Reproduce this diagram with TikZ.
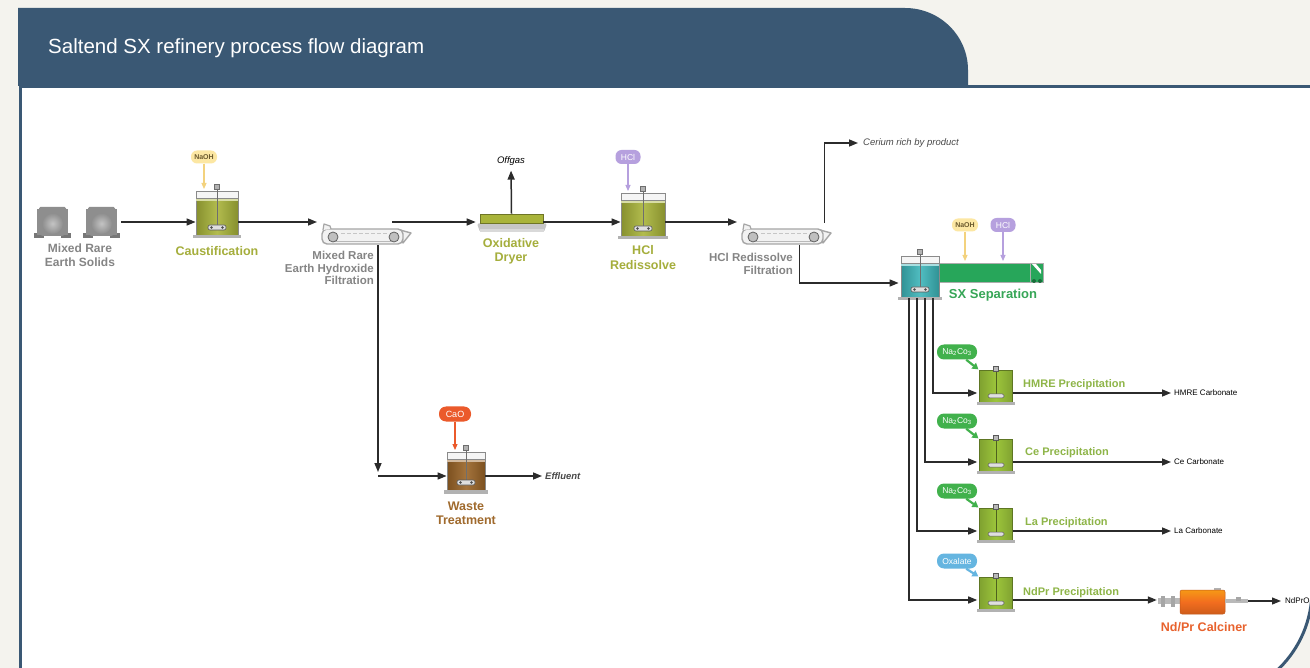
\documentclass[tikz,border=0pt]{standalone}
\usepackage{fontspec}
\setmainfont{Liberation Sans}
\usetikzlibrary{arrows.meta}

\definecolor{bgcream}{HTML}{F4F3EE}
\definecolor{frameblue}{HTML}{3A5874}
\definecolor{labgray}{HTML}{858585}
\definecolor{notegray}{HTML}{4A4A4A}
\definecolor{olivec}{HTML}{A9B43A}
\definecolor{olivetxt}{HTML}{A5AE3C}
\definecolor{limec}{HTML}{9CC53B}
\definecolor{limetxt}{HTML}{8EB548}
\definecolor{sxgreen}{HTML}{37A657}
\definecolor{tealc}{HTML}{3DB6BA}
\definecolor{settler}{HTML}{27A65A}
\definecolor{brownt}{HTML}{9A6427}
\definecolor{browntxt}{HTML}{A06A2D}
\definecolor{caored}{HTML}{EB5A2B}
\definecolor{calcorange}{HTML}{F26D1F}
\definecolor{calctxt}{HTML}{E8622D}
\definecolor{nagreen}{HTML}{41B14C}
\definecolor{oxblue}{HTML}{65B5E0}
\definecolor{hclpurple}{HTML}{B6A0DE}
\definecolor{naohyel}{HTML}{FCE7A3}
\definecolor{naohtxt}{HTML}{6B5A2E}
\definecolor{naoharrow}{HTML}{F3D27E}
\definecolor{tankline}{HTML}{8A8A8A}
\definecolor{linec}{HTML}{2B2B2B}
\definecolor{drumgray}{HTML}{8E8E8E}
\definecolor{drumdark}{HTML}{777777}
\definecolor{drumlight}{HTML}{C4C4C4}

% standard stirred tank: name, cx, ytop, width, height, colour
\newcommand\Tank[6]{%
  \pgfmathsetmacro\TL{#2-#4/2}%
  \pgfmathsetmacro\TR{#2+#4/2}%
  \pgfmathsetmacro\TB{#3+#5}%
  \node[inner sep=0, minimum width=#4pt, minimum height=#5pt, anchor=north,
        draw=tankline, line width=0.8pt, left color=#6!80!black,
        right color=#6!80!black, middle color=#6!90!white] (#1) at (#2,#3) {};
  \fill[#6!45!white] (\TL,{#3+7}) rectangle (\TR,{#3+10});
  \draw[tankline, line width=0.8pt, fill=white!92!gray] (\TL,#3) rectangle (\TR,{#3+7});
  \draw[tankline!80!black, line width=1pt] (#2,{#3-3}) -- (#2,{\TB-8});
  \draw[fill=gray!60, draw=tankline!80!black, line width=0.6pt] ({#2-2.5},{#3-7}) rectangle ({#2+2.5},{#3-2});
  \draw[fill=gray!25, draw=gray!70!black, line width=0.6pt, rounded corners=2pt] ({#2-9},{\TB-10}) rectangle ({#2+9},{\TB-5});
  \fill[gray!60!black] ({#2-5.5},{\TB-7.5}) circle[radius=1.3pt];
  \fill[gray!60!black] ({#2+5.5},{\TB-7.5}) circle[radius=1.3pt];
  \fill[gray!60] ({\TL-3},\TB) rectangle ({\TR+3},{\TB+3.5});
}

% precipitation tank: name, cx, ytop
\newcommand\PTank[3]{%
  \node[inner sep=0, minimum width=33pt, minimum height=32pt, anchor=north,
        draw=limec!60!black, line width=0.6pt, left color=limec!82!black,
        right color=limec!82!black, middle color=limec] (#1) at (#2,#3) {};
  \draw[limec!50!black, line width=0.7pt] (#2,{#3+1}) -- (#2,{#3+24});
  \draw[fill=gray!55, draw=gray!70!black, line width=0.5pt] ({#2-2.5},{#3-4}) rectangle ({#2+2.5},{#3+1});
  \draw[fill=gray!25, draw=gray!70!black, line width=0.5pt, rounded corners=1.5pt] ({#2-8},{#3+24}) rectangle ({#2+8},{#3+28});
  \fill[gray!60] ({#2-19},{#3+32}) rectangle ({#2+19},{#3+35});
}

% belt filter: name, xleft, ytop
\newcommand\Filter[3]{%
  \node[inner sep=0, minimum width=92pt, minimum height=22pt, anchor=north west] (#1) at (#2,#3) {};
  \draw[draw=gray!70, line width=1.4pt, fill=gray!10, line join=round] ({#2+80},{#3+7}) -- ({#2+91},{#3+10}) -- ({#2+83},{#3+20}) -- cycle;
  \draw[draw=gray!70, line width=1.4pt, fill=gray!10, rounded corners=5pt] ({#2+2},{#3+6}) rectangle ({#2+83},{#3+21});
  \draw[draw=gray!70, line width=1.2pt, fill=gray!10, line join=round] ({#2+3},{#3+7}) -- ({#2+4},{#3+1}) -- ({#2+10},{#3+3}) -- ({#2+11},{#3+6});
  \draw[gray!45, line width=1.3pt, dash pattern=on 4pt off 2pt] ({#2+21},{#3+10.5}) -- ({#2+67},{#3+10.5});
  \draw[gray!55, line width=0.8pt] ({#2+13},{#3+18.5}) -- ({#2+74},{#3+18.5});
  \draw[fill=gray!50, draw=gray!75!black, line width=0.8pt] ({#2+13},{#3+14}) circle[radius=5pt];
  \draw[fill=gray!50, draw=gray!75!black, line width=0.8pt] ({#2+74},{#3+14}) circle[radius=5pt];
}

% drum of solids: xleft, ytop
\newcommand\Drum[2]{%
  \fill[drumdark] (#1,{#2+26}) rectangle ({#1+10},{#2+31});
  \fill[drumdark] ({#1+27},{#2+26}) rectangle ({#1+37},{#2+31});
  \fill[drumgray] ({#1+3},{#2+2}) rectangle ({#1+9},{#2+28});
  \fill[drumgray] ({#1+28},{#2+2}) rectangle ({#1+34},{#2+28});
  \fill[drumgray, rounded corners=1.5pt] ({#1+5},#2) rectangle ({#1+32},{#2+6});
  \fill[drumgray, rounded corners=3pt] ({#1+6},{#2+4}) rectangle ({#1+31},{#2+29});
  \shade[inner color=drumlight, outer color=drumgray] ({#1+18.5},{#2+16.5}) circle[radius=10.5pt];
}

\begin{document}
\begin{tikzpicture}[x=1pt,y=-1pt,
  flow/.style={draw=linec, line width=1.5pt, -{Triangle[length=9pt,width=7pt]}},
  feed/.style={line width=1.1pt, -{Triangle[length=6pt,width=5pt]}, shorten >=2pt},
  dose/.style={line width=2.2pt, -{Triangle[length=6pt,width=7pt]}, shorten >=1pt},
  lab/.style={inner sep=0, align=center, font=\fontsize{12}{13.5}\selectfont\bfseries},
  plab/.style={inner sep=0, anchor=west, text=limetxt, font=\fontsize{11}{12}\selectfont\bfseries},
  note/.style={inner sep=0, text=notegray, font=\fontsize{9.5}{10}\selectfont\itshape},
  carb/.style={inner sep=0, anchor=west, text=black, font=\fontsize{8}{9}\selectfont},
  pill/.style={rounded corners=6pt, inner xsep=3pt, inner ysep=0pt, minimum height=14pt, text=white, font=\fontsize{8.5}{9}\selectfont},
  npill/.style={pill, fill=naohyel, text=naohtxt, font=\fontsize{7}{7}\selectfont\bfseries, minimum width=26pt, minimum height=13pt},
  hpill/.style={pill, fill=hclpurple, minimum width=25pt},
  cpill/.style={pill, minimum width=40pt, minimum height=15pt, rounded corners=7pt},
]
\useasboundingbox (0,0) rectangle (1310,668);
\fill[bgcream] (0,0) rectangle (1310,668);

% frame
\fill[white] (20,87) -- (1312,87) -- (1312,590) arc[start angle=0,end angle=-90,radius=110pt] -- (20,700) -- cycle;
\draw[frameblue, line width=3pt] (20,710) -- (20,87) -- (1320,87);
\draw[frameblue, line width=3pt] (1312,560) -- (1312,590) arc[start angle=0,end angle=-90,radius=110pt] -- (1150,700);
% header tab
\fill[frameblue] (18,86) -- (18,8) -- (905,8) arc[start angle=90,end angle=0,x radius=63pt,y radius=62pt] -- (968,86) -- cycle;
\node[anchor=west, text=white, inner sep=0, font=\fontsize{20.5}{21}\selectfont] (title) at (48,48) {Saltend SX refinery process flow diagram};

% rows
\coordinate (rowM) at (0,222);
\coordinate (rowSX) at (0,283);
\coordinate (rowW) at (0,476);
\coordinate (rowH) at (0,393);
\coordinate (rowC) at (0,462);
\coordinate (rowL) at (0,531);
\coordinate (rowN) at (0,600);

% Mixed rare earth solids
\Drum{34}{207}
\Drum{83}{207}
\node[inner sep=0, minimum width=87pt, minimum height=32pt] (solids) at (77.5,222) {};
\node[lab, text=labgray] (solidslab) at (80,255) {Mixed Rare\\Earth Solids};

% Caustification
\Tank{caust}{217}{191}{42}{44}{olivec}
\node[npill] (naoh1) at (204,157) {NaOH};
\draw[feed, naoharrow] (naoh1) -- (naoh1 |- caust.north);
\node[lab, text=olivetxt, font=\fontsize{12.5}{14}\selectfont\bfseries] (caustlab) at (217,251) {Caustification};

% Filtration 1
\Filter{filt1}{320}{223}
\node[lab, align=right, anchor=east, text=labgray, font=\fontsize{11.5}{12.5}\selectfont\bfseries] (filt1lab) at (374,268) {Mixed Rare\\Earth Hydroxide\\Filtration};

% Oxidative dryer
\fill[gray!45, rounded corners=1.5pt] (477,223.5) -- (547,223.5) -- (544,232) -- (480,232) -- cycle;
\fill[gray!30] (480,229) rectangle (544,232);
\node[fill=olivec, draw=olivec!65!black, line width=0.6pt, minimum width=63pt, minimum height=9pt, inner sep=0] (dryer) at (511.5,218.5) {};
\node[inner sep=0, font=\fontsize{9.5}{10}\selectfont\itshape] (offgas) at (511,161) {Offgas};
\draw[flow, shorten >=5pt] (dryer.north) -- (offgas.south);
\node[lab, text=olivetxt, font=\fontsize{12.5}{14}\selectfont\bfseries] (dryerlab) at (511,251) {Oxidative\\Dryer};

% HCl redissolve
\Tank{hclr}{643}{193}{44}{43}{olivec}
\node[hpill] (hcl1) at (628,157) {HCl};
\draw[feed, hclpurple] (hcl1) -- (hcl1 |- hclr.north);
\node[lab, text=olivetxt, font=\fontsize{12.5}{15}\selectfont\bfseries] (hclrlab) at (643,258) {HCl\\Redissolve};

% Filtration 2
\Filter{filt2}{740}{223}
\node[lab, align=right, anchor=east, text=labgray, font=\fontsize{11.5}{12.5}\selectfont\bfseries] (filt2lab) at (793,264) {HCl Redissolve\\Filtration};
\node[note, anchor=west] (cer) at (863,143) {Cerium rich by product};

% SX separation
\node[draw=gray!65, line width=1pt, fill=settler, minimum width=105pt, minimum height=19pt, inner sep=0, anchor=north west] (settler) at (938,263) {};
\draw[gray!65, line width=1pt] (1030,263) -- (1030,282);
\fill[white] (1032,264) -- (1036,264) -- (1041,270) -- (1041,274) -- cycle;
\fill[settler!65!black] (1034,281) circle[radius=2pt];
\fill[settler!65!black] (1040,281) circle[radius=2pt];
\Tank{sx}{920}{256}{38}{41}{tealc}
\node[npill] (naoh2) at (965,225) {NaOH};
\node[hpill] (hcl2) at (1003,225) {HCl};
\draw[feed, naoharrow] (naoh2) -- (naoh2 |- settler.north);
\draw[feed, hclpurple] (hcl2) -- (hcl2 |- settler.north);
\node[lab, text=sxgreen, font=\fontsize{13}{14}\selectfont\bfseries] (sxlab) at (993,295) {SX Separation};

% Waste treatment
\Tank{waste}{466}{452}{38}{38}{brownt}
\node[pill, fill=caored, font=\fontsize{9}{9}\selectfont, minimum width=32pt, minimum height=15pt, rounded corners=7pt] (cao) at (455,414) {CaO};
\draw[feed, caored] (cao) -- (cao |- waste.north);
\node[lab, text=browntxt, font=\fontsize{12.5}{14}\selectfont\bfseries] (wastelab) at (466,513) {Waste\\Treatment};
\node[note, anchor=west, font=\fontsize{9.5}{10}\selectfont\itshape\bfseries] (effl) at (545,476) {Effluent};

% Precipitation tanks
\PTank{hmre}{996}{370}
\PTank{cep}{996}{439}
\PTank{lap}{996}{508}
\PTank{ndpr}{996}{577}
\node[cpill, fill=nagreen] (na1) at (957,352) {Na\textsubscript{2}Co\textsubscript{3}};
\node[cpill, fill=nagreen] (na2) at (957,421) {Na\textsubscript{2}Co\textsubscript{3}};
\node[cpill, fill=nagreen] (na3) at (957,491) {Na\textsubscript{2}Co\textsubscript{3}};
\node[cpill, fill=oxblue] (ox) at (957,561) {Oxalate};
\draw[dose, nagreen] (na1.-40) -- (hmre.north west);
\draw[dose, nagreen] (na2.-40) -- (cep.north west);
\draw[dose, nagreen] (na3.-40) -- (lap.north west);
\draw[dose, oxblue] (ox.-40) -- (ndpr.north west);
\node[plab] (hmrelab) at (1023,385) {HMRE Precipitation};
\node[plab] (celab) at (1025,453) {Ce Precipitation};
\node[plab] (lalab) at (1025,523) {La Precipitation};
\node[plab] (ndprlab) at (1023,593) {NdPr Precipitation};
\node[carb] (hmrec) at (1174,393) {HMRE Carbonate};
\node[carb] (cec) at (1174,462) {Ce Carbonate};
\node[carb] (lac) at (1174,531) {La Carbonate};

% Calciner
\node[inner sep=0, minimum width=22pt, minimum height=6pt, fill=gray!55] (pipeL) at (1169,601) {};
\fill[gray!70] (1161,595.5) rectangle (1165,606.5);
\fill[gray!70] (1171,595.5) rectangle (1175,606.5);
\fill[gray!60] (1214,587.5) rectangle (1221,591);
\node[inner sep=0, minimum width=45pt, minimum height=24pt, rounded corners=2pt, draw=calcorange!80!black, line width=0.5pt, top color=calcorange!70!yellow, bottom color=calcorange!85!black, middle color=calcorange] (calciner) at (1202.5,602) {};
\node[inner sep=0, minimum width=23pt, minimum height=4pt, fill=gray!55] (pipeR) at (1236.5,601) {};
\fill[gray!70] (1236,597) rectangle (1241,601);
\node[carb] (ndprox) at (1285,601) {NdPrO};
\node[lab, text=calctxt, font=\fontsize{12.5}{14}\selectfont\bfseries] (calclab) at (1204,627) {Nd/Pr Calciner};

% connectors
\coordinate (f1out) at (392,222);
\coordinate (wcorner) at (378,476);
\draw[flow] (solids.east |- rowM) -- (caust.west |- rowM);
\draw[flow, shorten >=3pt] (caust.east |- rowM) -- (filt1.west |- rowM);
\draw[flow, shorten >=4pt] (f1out) -- (dryer.west |- rowM);
\draw[flow] (dryer.east |- rowM) -- (hclr.west |- rowM);
\draw[flow, shorten >=3pt] (hclr.east |- rowM) -- (filt2.west |- rowM);
\draw[flow, shorten >=5pt] ([xshift=-8pt]filt2.north east) |- (cer.west);
\draw[flow, shorten >=2pt] ([xshift=-33pt]filt2.south east) |- (sx.west |- rowSX);
\draw[flow] (wcorner |- filt1.south) -- ([yshift=4pt]wcorner);
\draw[flow] (wcorner) -- (waste.west |- wcorner);
\draw[flow, shorten >=3pt] (waste.east |- rowW) -- (effl.west);
\draw[flow, shorten >=2pt] ([xshift=13pt]sx.south) |- (hmre.west |- rowH);
\draw[flow, shorten >=2pt] ([xshift=5pt]sx.south) |- (cep.west |- rowC);
\draw[flow, shorten >=2pt] ([xshift=-3pt]sx.south) |- (lap.west |- rowL);
\draw[flow, shorten >=2pt] ([xshift=-11pt]sx.south) |- (ndpr.west |- rowN);
\draw[flow, shorten >=3pt] (hmre.east |- rowH) -- (hmrec.west);
\draw[flow, shorten >=3pt] (cep.east |- rowC) -- (cec.west);
\draw[flow, shorten >=3pt] (lap.east |- rowL) -- (lac.west);
\draw[flow, shorten >=1pt] (ndpr.east |- rowN) -- (pipeL.west |- rowN);
\draw[flow, shorten >=4pt, line width=1.2pt] (pipeR.east) -- (ndprox.west);
\end{tikzpicture}
\end{document}
